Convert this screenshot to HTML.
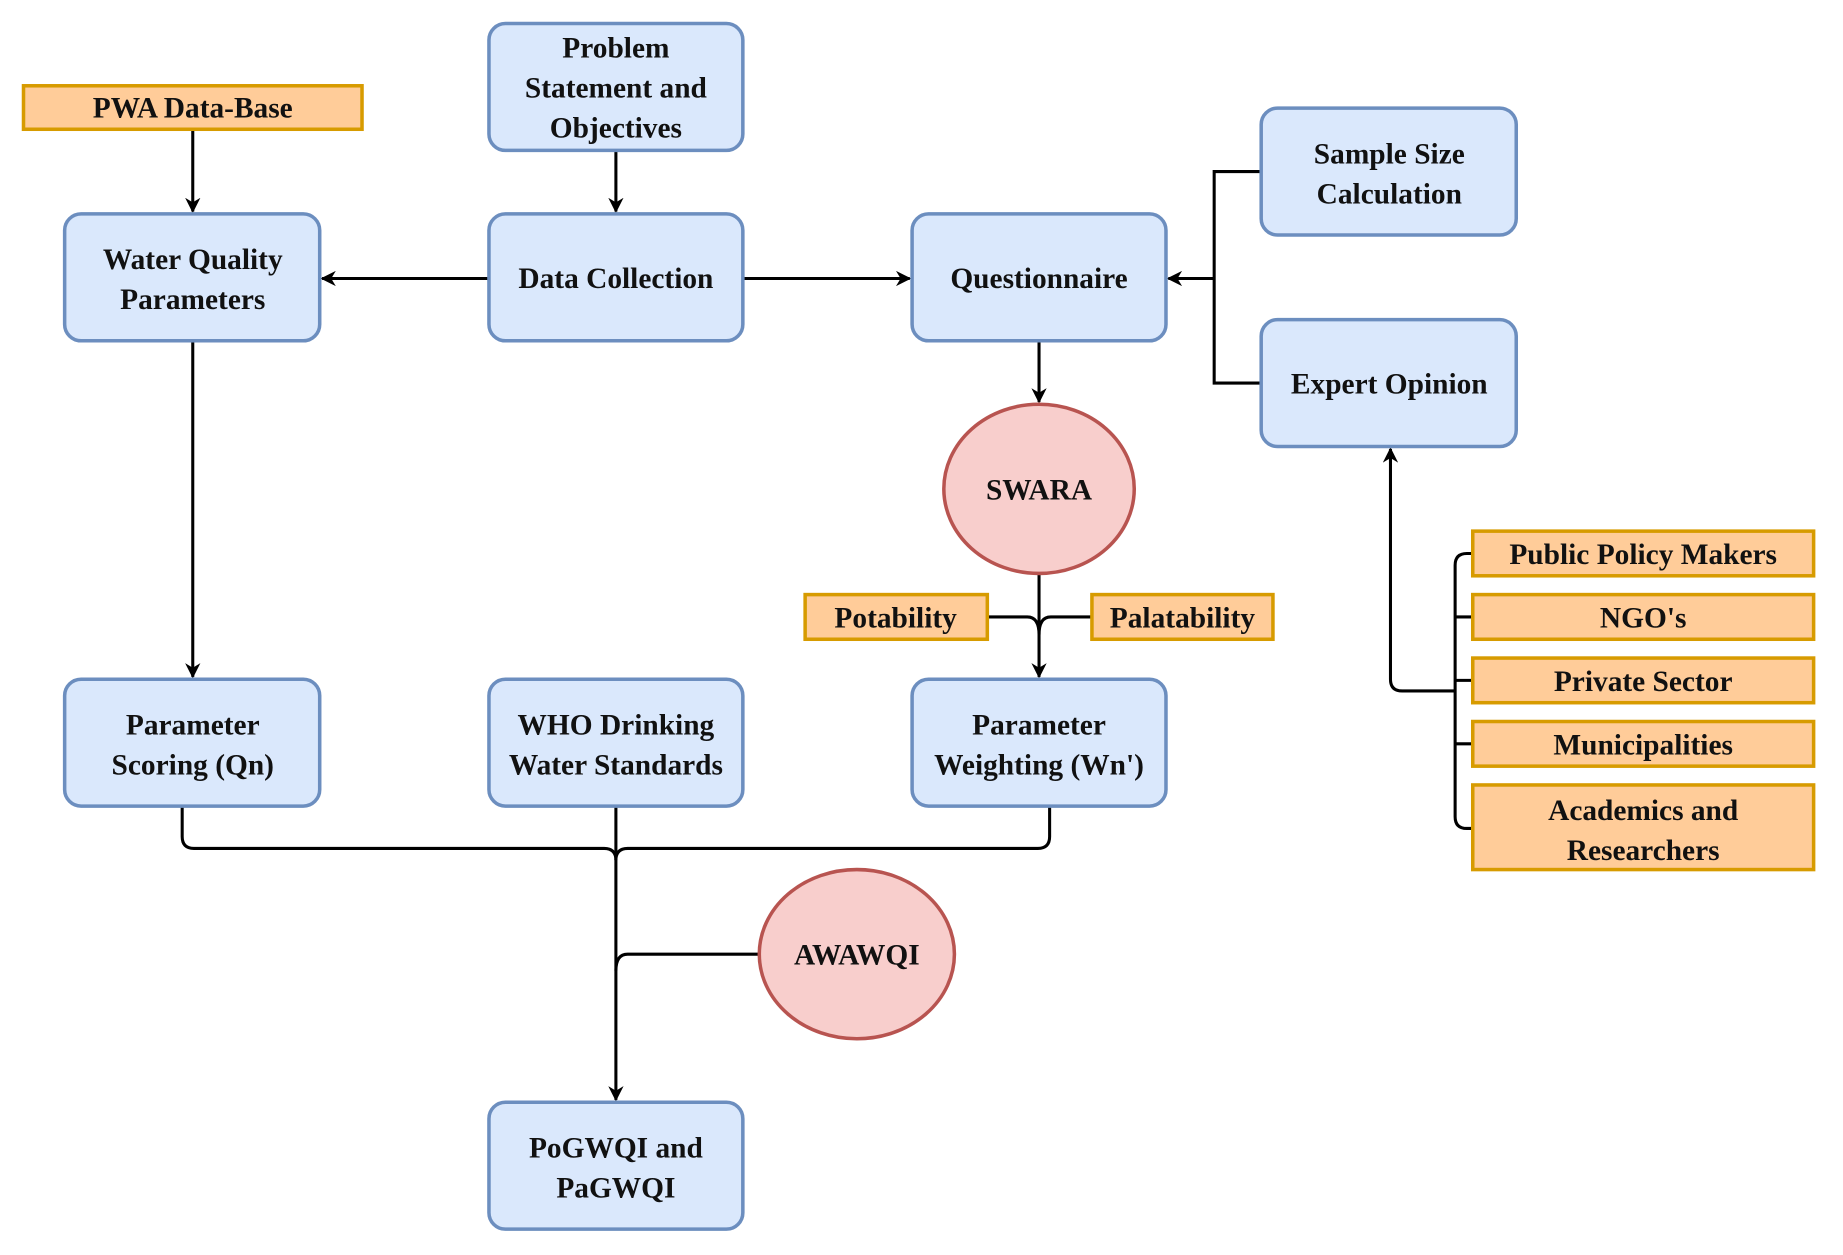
<!DOCTYPE html>
<html><head><meta charset="utf-8"><style>
html,body{margin:0;padding:0;background:#fff;width:1843px;height:1255px;overflow:hidden}
svg{display:block}
text{font-family:"Liberation Serif","Times New Roman","DejaVu Serif",serif;font-weight:bold;font-size:25px;fill:#111;text-anchor:middle}
.b{fill:#dae8fc;stroke:#6c8ebf;stroke-width:3}
.o{fill:#ffcc99;stroke:#d79b00;stroke-width:3}
.e{fill:#f8cecc;stroke:#b85450;stroke-width:3}
.l{fill:none;stroke:#000;stroke-width:2.6}
</style></head><body>
<svg width="1843" height="1255" viewBox="0 0 1568 1068" preserveAspectRatio="none" font-family="Liberation Serif, Times New Roman, DejaVu Serif, serif">
<defs><marker id="a" viewBox="0 0 10 10" refX="9" refY="5" markerWidth="5" markerHeight="5" orient="auto" markerUnits="strokeWidth"><path d="M0,0 L10,5 L0,10 L3,5 z" fill="#000"/></marker></defs>
<path class="l" d="M164,110 V180" marker-end="url(#a)"/>
<path class="l" d="M524,128 V180" marker-end="url(#a)"/>
<path class="l" d="M416,237 H274" marker-end="url(#a)"/>
<path class="l" d="M632,237 H774" marker-end="url(#a)"/>
<path class="l" d="M1073,146 H1033 V326 H1073"/>
<path class="l" d="M1033,237 H994" marker-end="url(#a)"/>
<path class="l" d="M884,290 V342" marker-end="url(#a)"/>
<path class="l" d="M884,488 V576" marker-end="url(#a)"/>
<path class="l" d="M840,525 H874 Q884,525 884,540"/>
<path class="l" d="M929,525 H894 Q884,525 884,540"/>
<path class="l" d="M164,290 V576" marker-end="url(#a)"/>
<path class="l" d="M155,686 V712 Q155,722 165,722 H514 Q524,722 524,732"/>
<path class="l" d="M893,686 V712 Q893,722 883,722 H534 Q524,722 524,732"/>
<path class="l" d="M524,686 V936" marker-end="url(#a)"/>
<path class="l" d="M646,812 H534 Q524,812 524,826"/>
<path class="l" d="M1238,588 H1193 Q1183,588 1183,578 V382" marker-end="url(#a)"/>
<path class="l" d="M1253,471 H1248 Q1238,471 1238,481 V695 Q1238,705 1248,705 H1253"/>
<path class="l" d="M1238,525 H1253 M1238,579 H1253 M1238,633 H1253"/>
<rect class="o" x="20" y="73" width="288" height="37"/><text x="164" y="100">PWA Data-Base</text>
<rect class="b" x="416" y="20" width="216" height="108" rx="14"/><text x="524" y="49">Problem</text><text x="524" y="83">Statement and</text><text x="524" y="117">Objectives</text>
<rect class="b" x="55" y="182" width="217" height="108" rx="14"/><text x="164" y="229">Water Quality</text><text x="164" y="263">Parameters</text>
<rect class="b" x="416" y="182" width="216" height="108" rx="14"/><text x="524" y="245">Data Collection</text>
<rect class="b" x="776" y="182" width="216" height="108" rx="14"/><text x="884" y="245">Questionnaire</text>
<rect class="b" x="1073" y="92" width="217" height="108" rx="14"/><text x="1182" y="139">Sample Size</text><text x="1182" y="173">Calculation</text>
<rect class="b" x="1073" y="272" width="217" height="108" rx="14"/><text x="1182" y="335">Expert Opinion</text>
<ellipse class="e" cx="884" cy="416" rx="81" ry="72"/><text x="884" y="425">SWARA</text>
<rect class="o" x="685" y="506" width="155" height="38"/><text x="762" y="534">Potability</text>
<rect class="o" x="929" y="506" width="154" height="38"/><text x="1006" y="534">Palatability</text>
<rect class="b" x="55" y="578" width="217" height="108" rx="14"/><text x="164" y="625">Parameter</text><text x="164" y="659">Scoring (Qn)</text>
<rect class="b" x="416" y="578" width="216" height="108" rx="14"/><text x="524" y="625">WHO Drinking</text><text x="524" y="659">Water Standards</text>
<rect class="b" x="776" y="578" width="216" height="108" rx="14"/><text x="884" y="625">Parameter</text><text x="884" y="659">Weighting (Wn')</text>
<rect class="o" x="1253" y="452" width="290" height="38"/><text x="1398" y="480">Public Policy Makers</text>
<rect class="o" x="1253" y="506" width="290" height="38"/><text x="1398" y="534">NGO's</text>
<rect class="o" x="1253" y="560" width="290" height="38"/><text x="1398" y="588">Private Sector</text>
<rect class="o" x="1253" y="614" width="290" height="38"/><text x="1398" y="642">Municipalities</text>
<rect class="o" x="1253" y="668" width="290" height="72"/><text x="1398" y="698">Academics and</text><text x="1398" y="732">Researchers</text>
<ellipse class="e" cx="729" cy="812" rx="83" ry="72"/><text x="729" y="821">AWAWQI</text>
<rect class="b" x="416" y="938" width="216" height="108" rx="14"/><text x="524" y="985">PoGWQI and</text><text x="524" y="1019">PaGWQI</text>
</svg>
</body></html>
